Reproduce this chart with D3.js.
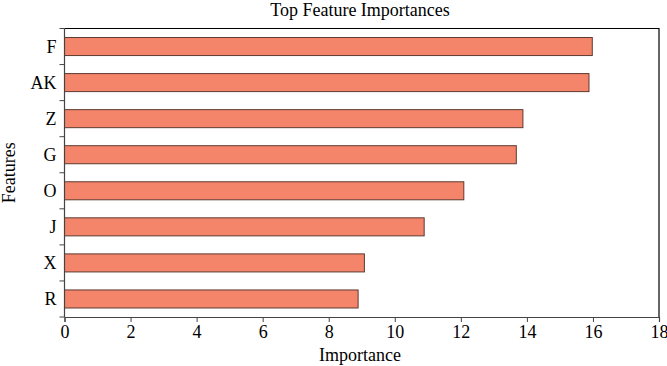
<!DOCTYPE html>
<html><head><meta charset="utf-8">
<script src="https://cdn.jsdelivr.net/npm/d3@7"></script>
<style>body{margin:0;background:#fff}svg{display:block}svg text{font-family:"Liberation Serif","DejaVu Serif",serif !important;fill:#000}</style>
</head><body><svg id="c" width="667" height="366"></svg>
<script>
const features = ["F","AK","Z","G","O","J","X","R"];
const importances = [15.98, 15.88, 13.88, 13.68, 12.09, 10.89, 9.08, 8.89];
const xTicks = [0,2,4,6,8,10,12,14,16,18];
const title = "Top Feature Importances";
const xLabel = "Importance";
const yLabel = "Features";

const svg = d3.select("#c");
const m = {l:64.5, r:659, t:28.5, b:317};
const x = d3.scaleLinear().domain([0,18]).range([m.l, m.r]);
const y = d3.scaleBand().domain(features).range([m.t, m.b]).padding(0.5).paddingOuter(0.25);

svg.append("g").selectAll("rect").data(features).join("rect")
  .attr("x", x(0)).attr("y", d => y(d))
  .attr("width", (d,i) => x(importances[i]) - x(0))
  .attr("height", y.bandwidth())
  .attr("fill", "#f4856a").attr("stroke", "#5e3a30").attr("stroke-width", 1);

svg.append("path").attr("d", `M${m.l},${m.t}H${m.r}V${m.b}`).attr("fill","none").attr("stroke","#000").attr("stroke-width",1.2);

const xa = svg.append("g").attr("transform", `translate(0,${m.b})`)
  .call(d3.axisBottom(x).tickValues(xTicks).tickSize(5).tickPadding(3));
xa.attr("font-family", null);
xa.select(".domain").attr("stroke","#444").attr("stroke-width",1.2);
xa.selectAll(".tick line").attr("stroke","#444");
xa.selectAll("text").style("font-size","18px");

const ya = svg.append("g").attr("transform", `translate(${m.l},0)`);
ya.append("line").attr("y1", m.t).attr("y2", m.b).attr("stroke","#444").attr("stroke-width",1.2);
const bounds = d3.range(features.length + 1).map(i => m.t + i * (m.b - m.t) / features.length);
ya.selectAll("line.t").data(bounds).join("line").attr("class","t")
  .attr("x1", -5).attr("x2", 0).attr("y1", d => d).attr("y2", d => d).attr("stroke","#444");
ya.selectAll("text").data(features).join("text")
  .attr("x", -8).attr("y", d => y(d) + y.bandwidth()/2).attr("dy","0.35em")
  .attr("text-anchor","end").style("font-size","18px").text(d => d);

svg.append("text").attr("x", 360).attr("y", 16).attr("text-anchor","middle").style("font-size","18px").text(title);
svg.append("text").attr("x", 360).attr("y", 361).attr("text-anchor","middle").style("font-size","18px").text(xLabel);
svg.append("text").attr("transform", `translate(15,${(m.t+m.b)/2}) rotate(-90)`).attr("text-anchor","middle").style("font-size","18px").text(yLabel);
</script></body></html>
